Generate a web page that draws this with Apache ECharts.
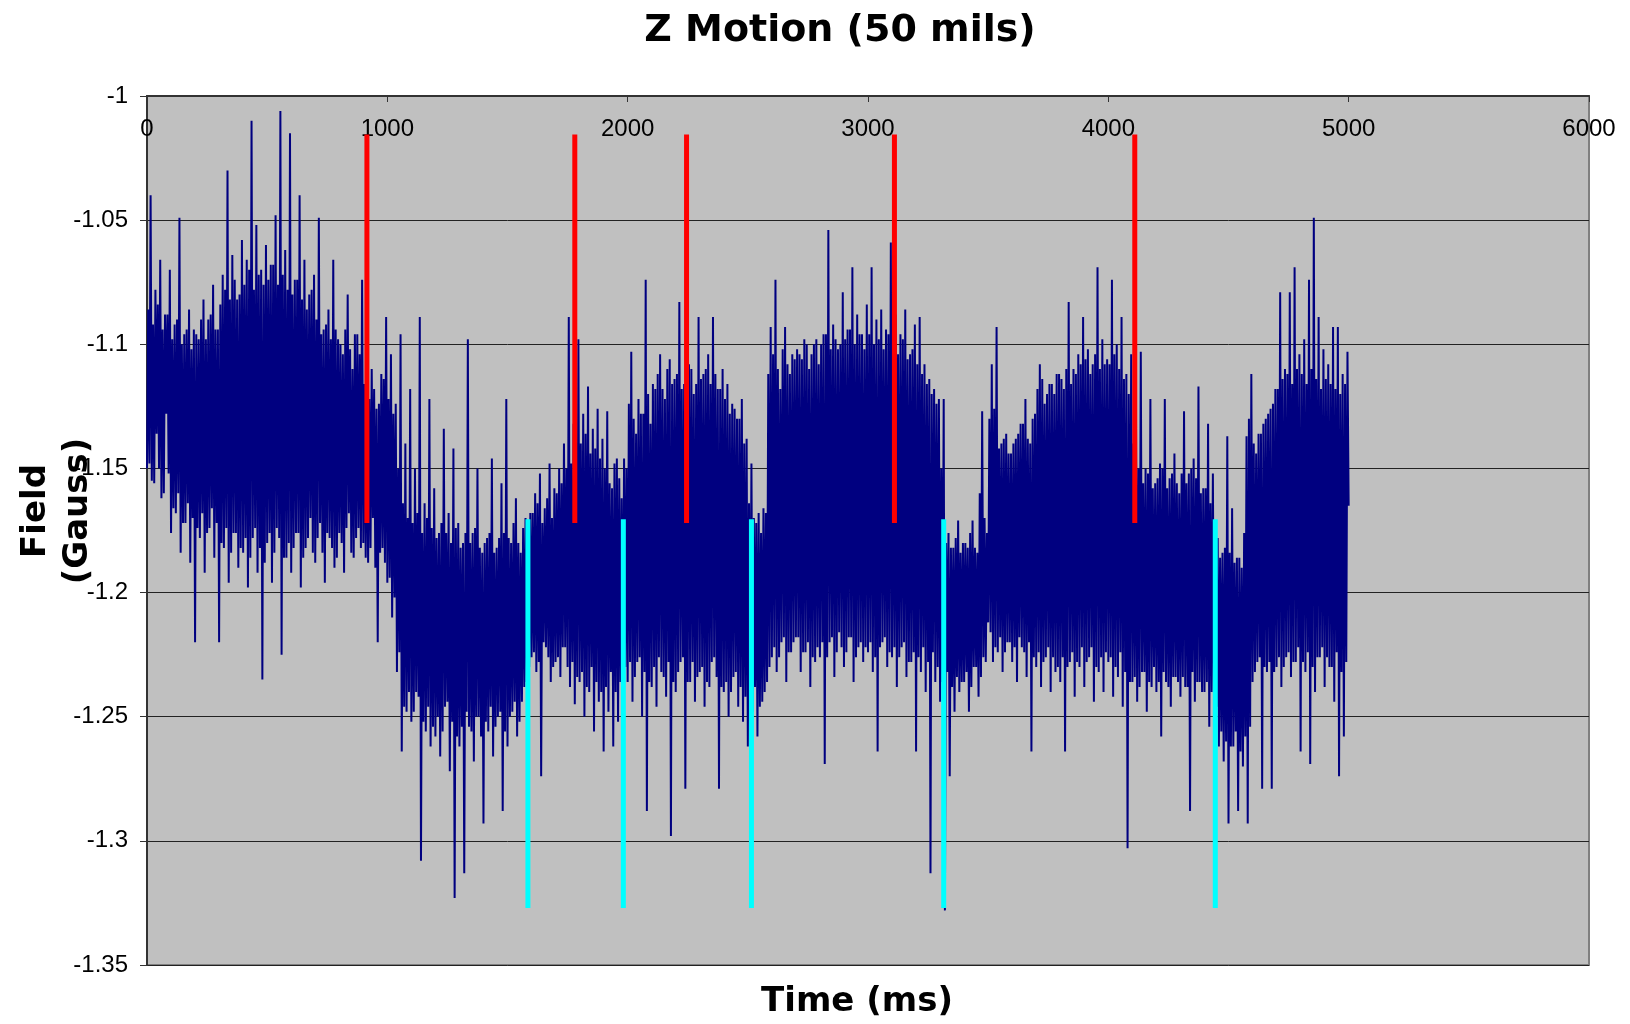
<!DOCTYPE html>
<html>
<head>
<meta charset="utf-8">
<title>Z Motion (50 mils)</title>
<script src="https://cdn.jsdelivr.net/npm/echarts@6/dist/echarts.min.js"></script>
<style>
html,body{margin:0;padding:0;background:#fff;}
#main{width:1630px;height:1024px;}
</style>
</head>
<body>
<div id="main"></div>
<script>
// field readings (Gauss), one every 5 ms (20 per 100 ms row)
var sampleStepMs = 5;

var field0to1000 = [
  -1.150,-1.086,-1.148,-1.040,-1.155,-1.092,-1.156,-1.078,-1.136,-1.084,-1.150,-1.066,-1.162,-1.094,-1.160,-1.088,-1.128,-1.088,-1.152,-1.070,
  -1.176,-1.098,-1.166,-1.092,-1.168,-1.090,-1.160,-1.049,-1.184,-1.100,-1.172,-1.096,-1.172,-1.094,-1.164,-1.086,-1.188,-1.102,-1.170,-1.094,
  -1.220,-1.096,-1.174,-1.098,-1.178,-1.090,-1.168,-1.082,-1.192,-1.098,-1.176,-1.090,-1.174,-1.088,-1.166,-1.076,-1.186,-1.094,-1.172,-1.094,
  -1.220,-1.084,-1.180,-1.072,-1.182,-1.078,-1.174,-1.030,-1.196,-1.082,-1.184,-1.064,-1.176,-1.074,-1.176,-1.082,-1.190,-1.080,-1.182,-1.058,
  -1.184,-1.076,-1.178,-1.066,-1.198,-1.070,-1.186,-1.010,-1.178,-1.078,-1.174,-1.052,-1.192,-1.072,-1.182,-1.070,-1.235,-1.076,-1.188,-1.060,
  -1.180,-1.074,-1.176,-1.068,-1.196,-1.068,-1.184,-1.048,-1.174,-1.076,-1.178,-1.006,-1.225,-1.072,-1.186,-1.062,-1.186,-1.078,-1.180,-1.015,
  -1.192,-1.080,-1.182,-1.074,-1.176,-1.074,-1.176,-1.040,-1.198,-1.082,-1.186,-1.066,-1.182,-1.086,-1.178,-1.080,-1.170,-1.078,-1.184,-1.072,
  -1.188,-1.090,-1.178,-1.049,-1.172,-1.096,-1.184,-1.094,-1.196,-1.092,-1.176,-1.086,-1.178,-1.098,-1.182,-1.066,-1.190,-1.094,-1.186,-1.098,
  -1.176,-1.100,-1.180,-1.104,-1.192,-1.094,-1.174,-1.080,-1.168,-1.102,-1.184,-1.110,-1.186,-1.096,-1.178,-1.096,-1.174,-1.104,-1.182,-1.074,
  -1.180,-1.116,-1.186,-1.118,-1.188,-1.122,-1.182,-1.110,-1.170,-1.118,-1.190,-1.126,-1.220,-1.124,-1.184,-1.112,-1.182,-1.114,-1.188,-1.089
];
var field1000to2000 = [
  -1.196,-1.122,-1.194,-1.104,-1.210,-1.128,-1.202,-1.124,-1.232,-1.150,-1.224,-1.096,-1.264,-1.164,-1.246,-1.140,-1.248,-1.170,-1.240,-1.118,
  -1.252,-1.172,-1.248,-1.150,-1.240,-1.168,-1.242,-1.089,-1.308,-1.176,-1.252,-1.164,-1.256,-1.170,-1.246,-1.122,-1.262,-1.174,-1.254,-1.158,
  -1.258,-1.178,-1.250,-1.176,-1.266,-1.172,-1.256,-1.134,-1.246,-1.176,-1.244,-1.168,-1.272,-1.180,-1.252,-1.142,-1.323,-1.174,-1.258,-1.172,
  -1.262,-1.182,-1.254,-1.180,-1.313,-1.176,-1.248,-1.098,-1.254,-1.180,-1.256,-1.176,-1.268,-1.174,-1.250,-1.150,-1.250,-1.182,-1.258,-1.184,
  -1.293,-1.180,-1.252,-1.178,-1.256,-1.176,-1.246,-1.146,-1.266,-1.184,-1.254,-1.182,-1.250,-1.178,-1.248,-1.156,-1.288,-1.176,-1.256,-1.122,
  -1.262,-1.178,-1.250,-1.180,-1.248,-1.172,-1.244,-1.162,-1.258,-1.180,-1.252,-1.184,-1.244,-1.174,-1.238,-1.170,-1.236,-1.172,-1.230,-1.168,
  -1.226,-1.168,-1.224,-1.160,-1.232,-1.164,-1.228,-1.152,-1.274,-1.172,-1.220,-1.166,-1.222,-1.162,-1.226,-1.148,-1.236,-1.170,-1.230,-1.158,
  -1.228,-1.160,-1.226,-1.150,-1.234,-1.156,-1.222,-1.140,-1.222,-1.150,-1.230,-1.089,-1.238,-1.148,-1.228,-1.132,-1.245,-1.142,-1.234,-1.098,
  -1.236,-1.140,-1.232,-1.128,-1.250,-1.136,-1.238,-1.117,-1.240,-1.144,-1.230,-1.134,-1.256,-1.142,-1.236,-1.126,-1.244,-1.146,-1.240,-1.138,
  -1.264,-1.150,-1.238,-1.127,-1.248,-1.156,-1.232,-1.158,-1.262,-1.148,-1.240,-1.146,-1.252,-1.154,-1.236,-1.162,-1.240,-1.146,-1.230,-1.150
];
var field2000to3000 = [
  -1.236,-1.124,-1.228,-1.103,-1.244,-1.130,-1.234,-1.136,-1.228,-1.122,-1.226,-1.128,-1.250,-1.128,-1.232,-1.074,-1.288,-1.120,-1.236,-1.132,
  -1.238,-1.116,-1.230,-1.118,-1.246,-1.112,-1.226,-1.104,-1.232,-1.118,-1.234,-1.122,-1.242,-1.110,-1.228,-1.106,-1.298,-1.116,-1.236,-1.114,
  -1.240,-1.112,-1.232,-1.083,-1.228,-1.118,-1.226,-1.116,-1.279,-1.114,-1.236,-1.108,-1.236,-1.110,-1.228,-1.120,-1.244,-1.116,-1.234,-1.089,
  -1.232,-1.114,-1.230,-1.112,-1.246,-1.110,-1.236,-1.104,-1.238,-1.116,-1.228,-1.089,-1.226,-1.112,-1.234,-1.118,-1.279,-1.118,-1.238,-1.110,
  -1.240,-1.122,-1.236,-1.116,-1.250,-1.128,-1.240,-1.124,-1.234,-1.126,-1.232,-1.130,-1.246,-1.130,-1.238,-1.122,-1.252,-1.140,-1.242,-1.138,
  -1.262,-1.164,-1.244,-1.148,-1.248,-1.170,-1.238,-1.172,-1.258,-1.168,-1.246,-1.176,-1.244,-1.166,-1.240,-1.168,-1.236,-1.112,-1.230,-1.093,
  -1.226,-1.104,-1.222,-1.074,-1.232,-1.110,-1.226,-1.118,-1.220,-1.102,-1.218,-1.093,-1.236,-1.108,-1.224,-1.112,-1.224,-1.104,-1.220,-1.106,
  -1.218,-1.102,-1.218,-1.104,-1.232,-1.106,-1.224,-1.098,-1.224,-1.100,-1.220,-1.110,-1.238,-1.104,-1.226,-1.100,-1.228,-1.098,-1.222,-1.108,
  -1.226,-1.100,-1.220,-1.096,-1.269,-1.096,-1.226,-1.054,-1.220,-1.102,-1.218,-1.092,-1.234,-1.098,-1.224,-1.102,-1.216,-1.100,-1.222,-1.079,
  -1.230,-1.098,-1.224,-1.094,-1.218,-1.094,-1.218,-1.069,-1.236,-1.100,-1.226,-1.088,-1.222,-1.096,-1.220,-1.096,-1.228,-1.102,-1.222,-1.084
];
var field3000to4000 = [
  -1.224,-1.096,-1.220,-1.069,-1.232,-1.100,-1.226,-1.090,-1.264,-1.098,-1.222,-1.086,-1.220,-1.102,-1.218,-1.094,-1.230,-1.096,-1.224,-1.059,
  -1.226,-1.100,-1.222,-1.088,-1.238,-1.104,-1.226,-1.096,-1.222,-1.098,-1.220,-1.086,-1.234,-1.106,-1.228,-1.104,-1.228,-1.102,-1.224,-1.092,
  -1.264,-1.108,-1.226,-1.089,-1.232,-1.112,-1.222,-1.108,-1.240,-1.116,-1.228,-1.114,-1.313,-1.120,-1.224,-1.118,-1.236,-1.124,-1.230,-1.122,
  -1.244,-1.150,-1.236,-1.122,-1.328,-1.180,-1.232,-1.176,-1.274,-1.182,-1.238,-1.182,-1.248,-1.178,-1.234,-1.171,-1.240,-1.184,-1.236,-1.180,
  -1.236,-1.180,-1.232,-1.182,-1.248,-1.176,-1.238,-1.171,-1.230,-1.182,-1.230,-1.184,-1.242,-1.160,-1.234,-1.127,-1.226,-1.170,-1.228,-1.176,
  -1.212,-1.130,-1.216,-1.108,-1.228,-1.126,-1.222,-1.093,-1.224,-1.142,-1.218,-1.140,-1.232,-1.138,-1.224,-1.136,-1.220,-1.144,-1.220,-1.144,
  -1.228,-1.140,-1.222,-1.138,-1.236,-1.136,-1.218,-1.132,-1.222,-1.132,-1.224,-1.122,-1.234,-1.138,-1.220,-1.140,-1.264,-1.130,-1.226,-1.128,
  -1.230,-1.118,-1.224,-1.108,-1.238,-1.114,-1.228,-1.124,-1.226,-1.120,-1.222,-1.116,-1.240,-1.116,-1.226,-1.120,-1.232,-1.112,-1.230,-1.112,
  -1.236,-1.114,-1.226,-1.118,-1.264,-1.110,-1.230,-1.083,-1.228,-1.116,-1.224,-1.110,-1.242,-1.112,-1.228,-1.104,-1.230,-1.108,-1.222,-1.089,
  -1.238,-1.106,-1.228,-1.102,-1.226,-1.112,-1.222,-1.108,-1.244,-1.104,-1.230,-1.069,-1.232,-1.110,-1.226,-1.098,-1.240,-1.108,-1.224,-1.106
];
var field4000to5000 = [
  -1.228,-1.108,-1.226,-1.074,-1.242,-1.104,-1.230,-1.100,-1.234,-1.110,-1.224,-1.089,-1.246,-1.114,-1.232,-1.112,-1.303,-1.120,-1.236,-1.104,
  -1.236,-1.140,-1.234,-1.128,-1.244,-1.150,-1.238,-1.103,-1.232,-1.156,-1.232,-1.150,-1.248,-1.152,-1.236,-1.122,-1.238,-1.158,-1.230,-1.156,
  -1.240,-1.154,-1.236,-1.148,-1.258,-1.150,-1.232,-1.122,-1.236,-1.158,-1.238,-1.154,-1.246,-1.152,-1.234,-1.144,-1.234,-1.156,-1.236,-1.160,
  -1.242,-1.152,-1.234,-1.127,-1.238,-1.156,-1.238,-1.152,-1.288,-1.150,-1.232,-1.146,-1.244,-1.154,-1.236,-1.117,-1.236,-1.160,-1.240,-1.158,
  -1.240,-1.158,-1.236,-1.132,-1.254,-1.164,-1.240,-1.152,-1.246,-1.180,-1.246,-1.178,-1.262,-1.186,-1.256,-1.184,-1.268,-1.182,-1.260,-1.137,
  -1.293,-1.184,-1.262,-1.166,-1.262,-1.188,-1.256,-1.186,-1.288,-1.186,-1.264,-1.190,-1.270,-1.176,-1.258,-1.137,-1.293,-1.130,-1.254,-1.112,
  -1.236,-1.140,-1.232,-1.144,-1.228,-1.136,-1.226,-1.136,-1.279,-1.132,-1.230,-1.130,-1.232,-1.128,-1.228,-1.126,-1.279,-1.124,-1.232,-1.118,
  -1.230,-1.118,-1.226,-1.079,-1.238,-1.114,-1.230,-1.110,-1.226,-1.112,-1.224,-1.079,-1.234,-1.116,-1.228,-1.069,-1.228,-1.110,-1.222,-1.104,
  -1.264,-1.112,-1.228,-1.098,-1.232,-1.116,-1.224,-1.074,-1.269,-1.110,-1.230,-1.049,-1.240,-1.114,-1.226,-1.089,-1.226,-1.118,-1.222,-1.102,
  -1.238,-1.114,-1.226,-1.108,-1.230,-1.116,-1.230,-1.093,-1.244,-1.118,-1.224,-1.093,-1.274,-1.120,-1.232,-1.112,-1.258,-1.116,-1.228,-1.103,
  -1.165
];

// red / cyan event markers (ms) and their extent (Gauss)
var redTimes = [915, 1780, 2245, 3110, 4110];
var redRange = [-1.0155, -1.172];
var cyanTimes = [1585, 1982, 2515, 3315, 4445];
var cyanRange = [-1.1705, -1.327];

var xTicks = [0, 6000, 1000];
var yTicks = [-1.35, -1, 0.05];

;(function() {
  var myChart = echarts.init(document.getElementById('main'), null, {renderer: 'canvas'});

  var field = [].concat(field0to1000, field1000to2000, field2000to3000, field3000to4000, field4000to5000);
  var trace = field.map(function(v, i) { return [i * sampleStepMs, v]; });

  function markers(times, range, color) {
    return times.map(function(t) {
      return {
        type: 'line',
        data: [[t, range[0]], [t, range[1]]],
        symbol: 'none',
        silent: true,
        z: 4,
        lineStyle: {color: color, width: 5, cap: 'butt'}
      };
    });
  }

  var font = 'Liberation Sans';
  var option = {
    animation: false,
    backgroundColor: '#ffffff',
    grid: {
      left: 147, right: 41, top: 96, bottom: 59,
      show: true,
      backgroundColor: '#c0c0c0',
      borderColor: '#808080',
      borderWidth: 2
    },
    graphic: [
      {type: 'text', x: 840, y: 31, style: {text: 'Z Motion (50 mils)', font: 'bold 38px "DejaVu Sans"', fill: '#000', textAlign: 'center', textVerticalAlign: 'middle'}},
      {type: 'text', x: 857, y: 1002, style: {text: 'Time (ms)', font: 'bold 34px "DejaVu Sans"', fill: '#000', textAlign: 'center', textVerticalAlign: 'middle'}},
      {type: 'text', x: 57, y: 511, rotation: Math.PI / 2, style: {text: 'Field\n(Gauss)', font: 'bold 34px "DejaVu Sans"', lineHeight: 42, fill: '#000', textAlign: 'center', textVerticalAlign: 'middle'}}
    ],
    xAxis: {
      type: 'value',
      position: 'top',
      min: xTicks[0], max: xTicks[1], interval: xTicks[2],
      axisLine: {onZero: false, lineStyle: {color: '#333', width: 2}},
      axisTick: {inside: true, length: 6, lineStyle: {color: '#333'}},
      axisLabel: {inside: true, margin: 21, color: '#000', fontFamily: font, fontSize: 24,
        formatter: function(v) { return String(v); }},
      splitLine: {show: false}
    },
    yAxis: {
      type: 'value',
      min: yTicks[0], max: yTicks[1], interval: yTicks[2],
      axisLine: {show: true, lineStyle: {color: '#333', width: 2}},
      axisTick: {show: true, length: 7, lineStyle: {color: '#333'}},
      axisLabel: {margin: 19, color: '#000', fontFamily: font, fontSize: 24},
      splitLine: {show: true, lineStyle: {color: '#222', width: 1}}
    },
    series: [{
      name: 'Field',
      type: 'line',
      data: trace,
      symbol: 'none',
      silent: true,
      z: 2,
      lineStyle: {color: '#000080', width: 2}
    }].concat(markers(redTimes, redRange, '#ff0000'), markers(cyanTimes, cyanRange, '#00ffff'))
  };

  myChart.setOption(option);
})()
</script>
</body>
</html>
